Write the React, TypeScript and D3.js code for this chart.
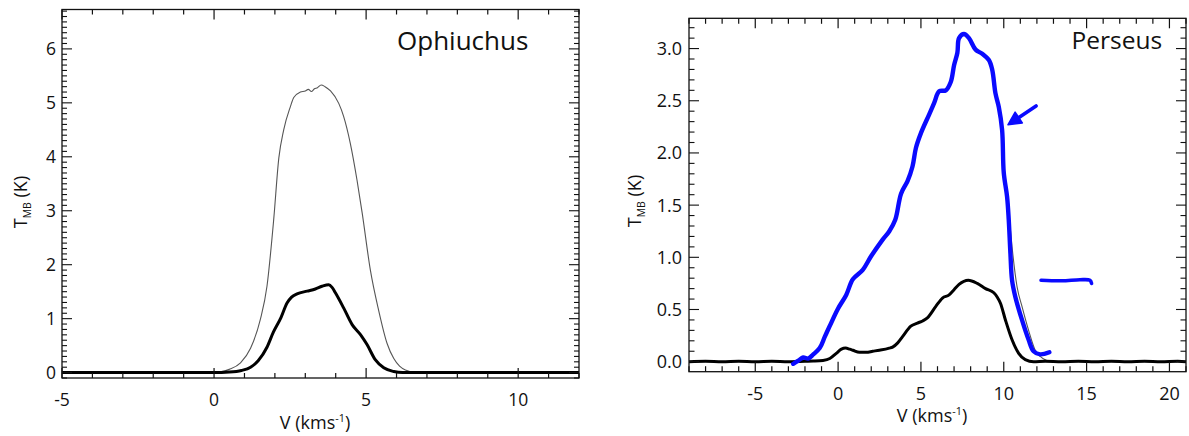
import React, { useEffect, useRef } from "react";
import * as d3 from "d3";

// ---------- data (V in km/s, T_MB in K) ----------
const ophThin: [number, number][] = [
  [-5, 0.005], [-4.5, 0], [-4, 0.008], [-3.5, 0], [-3, 0.005], [-2.5, -0.004], [-2, 0.006], [-1.5, 0],
  [-1, 0.005], [-0.5, 0], [0, 0.005], [0.2, 0.015], [0.5, 0.06], [0.87, 0.18], [1.2, 0.45], [1.52, 0.98],
  [1.74, 1.6], [1.96, 2.83], [2.13, 3.98], [2.29, 4.5], [2.51, 4.93], [2.62, 5.1], [2.84, 5.2],
  [3.0, 5.22], [3.1, 5.25], [3.2, 5.21], [3.3, 5.26], [3.4, 5.28], [3.52, 5.33], [3.65, 5.3],
  [3.83, 5.22], [4.1, 4.99], [4.26, 4.75], [4.48, 4.25], [4.7, 3.57], [4.87, 2.96], [5.14, 1.9],
  [5.41, 1.16], [5.69, 0.54], [5.91, 0.26], [6.1, 0.12], [6.29, 0.05], [6.6, 0.01], [7, 0.006],
  [7.5, 0], [8, 0.005], [8.5, 0], [9, 0.006], [9.5, 0], [10, 0.005], [10.5, 0], [11, 0.006], [11.5, 0], [12, 0.004],
];
const ophThick: [number, number][] = [
  [-5, 0], [-4.5, 0.004], [-4, 0], [-3.5, 0.004], [-3, 0], [-2.5, 0.004], [-2, 0], [-1.5, 0.004], [-1, 0],
  [-0.5, 0.004], [0, 0], [0.5, 0.01], [0.9, 0.04], [1.2, 0.1], [1.45, 0.22], [1.74, 0.47], [1.95, 0.75],
  [2.2, 1.02], [2.4, 1.29], [2.55, 1.4], [2.73, 1.46], [3.06, 1.51], [3.33, 1.55], [3.55, 1.6],
  [3.77, 1.63], [3.88, 1.58], [3.99, 1.48], [4.26, 1.2], [4.54, 0.89], [4.82, 0.7], [5.03, 0.52],
  [5.3, 0.24], [5.58, 0.09], [5.91, 0.02], [6.2, 0], [6.7, 0.004], [7.2, 0], [7.7, 0.004], [8.2, 0],
  [8.7, 0.004], [9.2, 0], [9.7, 0.004], [10.2, 0], [10.7, 0.004], [11.2, 0], [11.7, 0.004], [12, 0],
];
const perThick: [number, number][] = [
  [-9, 0], [-8, 0.004], [-7, 0], [-6, 0.004], [-5, 0], [-4, 0.004], [-3, 0], [-2, 0.004], [-1.5, 0.006],
  [-0.91, 0.012], [-0.5, 0.03], [-0.11, 0.08], [0.2, 0.12], [0.45, 0.13], [0.7, 0.12], [0.89, 0.11],
  [1.29, 0.09], [1.7, 0.09], [2.09, 0.1], [2.49, 0.11], [3.09, 0.13], [3.29, 0.14], [3.6, 0.18],
  [3.89, 0.24], [4.39, 0.34], [4.79, 0.37], [5.1, 0.39], [5.39, 0.42], [5.9, 0.53], [6.3, 0.61],
  [6.7, 0.64], [7.0, 0.69], [7.3, 0.74], [7.86, 0.78], [8.4, 0.75], [8.9, 0.7], [9.4, 0.66], [9.6, 0.62],
  [9.8, 0.56], [10.1, 0.4], [10.5, 0.21], [10.9, 0.08], [11.3, 0.02], [11.8, 0], [12.5, 0.004], [13.5, 0],
  [14.5, 0.004], [15.5, 0], [16.5, 0.004], [17.5, 0], [18.5, 0.004], [19.5, 0], [20.5, 0.004], [21, 0],
];
const perThin: [number, number][] = [
  [-9, 0], [-8, 0.004], [-7, 0], [-6, 0.004], [-5, 0], [-4, 0.004], [-3, 0], [-2.5, 0.008], [-2.0, 0.03],
  [-1.5, 0.07], [-1.11, 0.14], [-0.8, 0.25], [-0.51, 0.35], [0, 0.52], [0.49, 0.65], [0.89, 0.79],
  [1.49, 0.89], [1.99, 1.02], [2.69, 1.18], [3.09, 1.26], [3.45, 1.37], [3.8, 1.6], [4.19, 1.74],
  [4.49, 1.88], [4.7, 2.05], [5.0, 2.2], [5.5, 2.37], [5.8, 2.49], [6.1, 2.59], [6.5, 2.61], [6.8, 2.69],
  [7.0, 2.84], [7.2, 2.97], [7.3, 3.1], [7.6, 3.13], [7.9, 3.1], [8.3, 3.0], [8.7, 2.96], [9.1, 2.89],
  [9.3, 2.8], [9.5, 2.57], [9.7, 2.44], [9.9, 2.22], [10.0, 1.85], [10.2, 1.62], [10.35, 1.35],
  [10.5, 1.1], [10.8, 0.72], [11.1, 0.53], [11.5, 0.3], [11.9, 0.11], [12.2, 0.05], [12.6, 0.01],
  [13, 0], [14, 0.004], [15, 0], [16, 0.004], [17, 0], [18, 0.004], [19, 0], [20, 0.004], [21, 0],
];
const perTrace: [number, number][] = [
  [-2.71, -0.02], [-2.4, 0.01], [-2.11, 0.04], [-1.81, 0.03], [-1.5, 0.07], [-1.11, 0.13], [-0.8, 0.24],
  [-0.51, 0.34], [0, 0.51], [0.49, 0.64], [0.89, 0.79], [1.49, 0.88], [1.99, 1.01], [2.69, 1.17],
  [3.09, 1.25], [3.45, 1.36], [3.8, 1.61], [4.19, 1.73], [4.49, 1.87], [4.7, 2.05], [5.0, 2.19],
  [5.5, 2.37], [5.8, 2.48], [6.1, 2.59], [6.5, 2.6], [6.8, 2.68], [7.0, 2.84], [7.2, 2.96], [7.3, 3.1],
  [7.6, 3.14], [7.9, 3.1], [8.3, 2.99], [8.7, 2.95], [9.1, 2.89], [9.3, 2.8], [9.5, 2.57], [9.7, 2.44],
  [9.9, 2.22], [10.0, 1.81], [10.2, 1.58], [10.3, 1.36], [10.4, 1.04], [10.5, 0.78], [10.7, 0.62],
  [11.1, 0.4], [11.5, 0.21], [11.8, 0.1], [12.2, 0.07], [12.75, 0.09],
];
const arrowLine: [number, number][] = [[11.95, 2.45], [10.25, 2.27]];
const dashMark: [number, number][] = [[12.25, 0.78], [13.5, 0.775], [14.6, 0.785], [15.2, 0.78], [15.3, 0.75]];

const leftXTicks = [-5, 0, 5, 10];
const leftYTicks = [0, 1, 2, 3, 4, 5, 6];
const rightXTicks = [-5, 0, 5, 10, 15, 20];
const rightYTicks = [0, 0.5, 1.0, 1.5, 2.0, 2.5, 3.0];
const titles = ["Ophiuchus", "Perseus"];

const FONT = "'Open Sans', 'DejaVu Sans', sans-serif";

export default function App() {
  const ref = useRef<SVGSVGElement>(null);

  useEffect(() => {
    const svg = d3.select(ref.current);
    svg.selectAll("*").remove();

    const drawPanel = (cfg: any) => {
      const x = d3.scaleLinear().domain(cfg.xDom).range([cfg.x0, cfg.x1]);
      const y = d3.scaleLinear().domain(cfg.yDom).range([cfg.y1, cfg.y0]);
      const g = svg.append("g");
      const line = d3.line<[number, number]>().x((d) => x(d[0])).y((d) => y(d[1])).curve(d3.curveMonotoneX);

      // data lines
      g.append("path").datum(cfg.thin).attr("d", line).attr("fill", "none")
        .attr("stroke", "#555").attr("stroke-width", 1.1);
      g.append("path").datum(cfg.thick).attr("d", line).attr("fill", "none")
        .attr("stroke", "#000").attr("stroke-width", 3).attr("stroke-linejoin", "round");

      if (cfg.trace) {
        const bl = d3.line<[number, number]>().x((d) => x(d[0])).y((d) => y(d[1])).curve(d3.curveCatmullRom);
        g.append("path").datum(cfg.trace).attr("d", bl).attr("fill", "none")
          .attr("stroke", "#0a0aff").attr("stroke-width", 4.4).attr("stroke-linecap", "round").attr("stroke-linejoin", "round");
        g.append("path").datum(dashMark).attr("d", bl).attr("fill", "none")
          .attr("stroke", "#0a0aff").attr("stroke-width", 3.6).attr("stroke-linecap", "round");
        const [a, b] = arrowLine;
        const ax = x(a[0]), ay = y(a[1]), bx = x(b[0]), by = y(b[1]);
        const ang = Math.atan2(by - ay, bx - ax);
        const hl = 13, hw = 6.5;
        const sx = bx - Math.cos(ang) * (hl - 2), sy = by - Math.sin(ang) * (hl - 2);
        g.append("line").attr("x1", ax).attr("y1", ay).attr("x2", sx).attr("y2", sy)
          .attr("stroke", "#0a0aff").attr("stroke-width", 3.6).attr("stroke-linecap", "round");
        const px = -Math.sin(ang), py = Math.cos(ang);
        const hx = bx - Math.cos(ang) * hl, hy = by - Math.sin(ang) * hl;
        g.append("path")
          .attr("d", `M${bx},${by}L${hx + px * hw},${hy + py * hw}L${hx - px * hw},${hy - py * hw}Z`)
          .attr("fill", "#0a0aff").attr("stroke", "#0a0aff").attr("stroke-width", 1.5).attr("stroke-linejoin", "round");
      }

      // frame
      g.append("rect").attr("x", cfg.x0).attr("y", cfg.y0).attr("width", cfg.x1 - cfg.x0)
        .attr("height", cfg.y1 - cfg.y0).attr("fill", "none").attr("stroke", "#111").attr("stroke-width", 1.3);

      // x ticks (bottom & top, inward)
      const xMinor = d3.range(Math.ceil(cfg.xDom[0]), Math.floor(cfg.xDom[1]) + 1);
      xMinor.forEach((v) => {
        const major = cfg.xTicks.includes(v);
        const len = major ? cfg.majorLen : cfg.minorLen;
        const xp = x(v);
        g.append("line").attr("x1", xp).attr("x2", xp).attr("y1", cfg.y1).attr("y2", cfg.y1 - len)
          .attr("stroke", "#111").attr("stroke-width", 1.2);
        g.append("line").attr("x1", xp).attr("x2", xp).attr("y1", cfg.y0).attr("y2", cfg.y0 + len)
          .attr("stroke", "#111").attr("stroke-width", 1.2);
      });
      cfg.xTicks.forEach((v: number) => {
        g.append("text").attr("x", x(v)).attr("y", cfg.y1 + cfg.xLabelOff).attr("text-anchor", "middle")
          .attr("font-family", FONT).attr("font-size", cfg.tickFont).attr("fill", "#111").text(String(v));
      });

      // y ticks (left & right, inward)
      const nMinor = Math.round((cfg.yDom[1] - 0) / cfg.yMinorStep);
      const yMinor = d3.range(Math.ceil(cfg.yDom[0] / cfg.yMinorStep), nMinor + 1).map((i) => +(i * cfg.yMinorStep).toFixed(3));
      yMinor.forEach((v) => {
        if (v < cfg.yDom[0] || v > cfg.yDom[1]) return;
        const major = cfg.yTicks.some((t: number) => Math.abs(t - v) < 1e-6);
        const len = major ? cfg.majorLen : cfg.minorLen;
        const yp = y(v);
        g.append("line").attr("x1", cfg.x0).attr("x2", cfg.x0 + len).attr("y1", yp).attr("y2", yp)
          .attr("stroke", "#111").attr("stroke-width", 1.1);
        g.append("line").attr("x1", cfg.x1).attr("x2", cfg.x1 - len).attr("y1", yp).attr("y2", yp)
          .attr("stroke", "#111").attr("stroke-width", 1.1);
      });
      cfg.yTicks.forEach((v: number) => {
        g.append("text").attr("x", cfg.x0 - cfg.yLabelGap).attr("y", y(v)).attr("dy", "0.36em")
          .attr("text-anchor", "end").attr("font-family", FONT).attr("font-size", cfg.tickFont)
          .attr("fill", "#111").text(cfg.yFmt(v));
      });

      // axis titles
      const xt = g.append("text").attr("x", cfg.xTitleX).attr("y", cfg.xTitleY).attr("text-anchor", "middle")
        .attr("font-family", FONT).attr("font-size", cfg.titleFont).attr("fill", "#111");
      xt.append("tspan").text("V (kms");
      xt.append("tspan").attr("font-size", cfg.titleFont * 0.6).attr("dy", -7).text("-1");
      xt.append("tspan").attr("dy", 7).text(")");

      const yt = g.append("text").attr("transform", `translate(${cfg.yTitleX},${cfg.yTitleY}) rotate(-90)`)
        .attr("text-anchor", "middle").attr("font-family", FONT).attr("font-size", cfg.titleFont).attr("fill", "#111");
      yt.append("tspan").text("T");
      yt.append("tspan").attr("font-size", cfg.titleFont * 0.58).attr("dy", 4).text("MB");
      yt.append("tspan").attr("dy", -4).text(" (K)");

      // panel title
      g.append("text").attr("x", cfg.nameX).attr("y", cfg.nameY).attr("font-family", FONT)
        .attr("font-size", cfg.nameFont).attr("fill", "#111").text(cfg.name);
    };

    drawPanel({
      x0: 62, x1: 579, y0: 9.5, y1: 378, xDom: [-5, 12], yDom: [-0.1, 6.73],
      thin: ophThin, thick: ophThick, xTicks: leftXTicks, yTicks: leftYTicks, yMinorStep: 0.1,
      yFmt: (v: number) => String(v), majorLen: 10, minorLen: 5, tickFont: 17.5, xLabelOff: 28,
      yLabelGap: 6, titleFont: 18, xTitleX: 315, xTitleY: 429, yTitleX: 27, yTitleY: 202,
      name: titles[0], nameX: 397, nameY: 50, nameFont: 26,
    });
    drawPanel({
      x0: 689, x1: 1186, y0: 18.3, y1: 371.7, xDom: [-9, 21], yDom: [-0.096, 3.29],
      thin: perThin, thick: perThick, trace: perTrace, xTicks: rightXTicks, yTicks: rightYTicks, yMinorStep: 0.1,
      yFmt: (v: number) => d3.format(".1f")(v), majorLen: 10, minorLen: 5.5, tickFont: 18, xLabelOff: 28,
      yLabelGap: 7, titleFont: 18, xTitleX: 932, xTitleY: 421.5, yTitleX: 640.5, yTitleY: 201,
      name: titles[1], nameX: 1071.5, nameY: 49.3, nameFont: 24.5,
    });
  }, []);

  return (
    <svg ref={ref} width={1189} height={436}
      style={{ position: "absolute", left: 0, top: 0, background: "#fff", display: "block" }} />
  );
}
